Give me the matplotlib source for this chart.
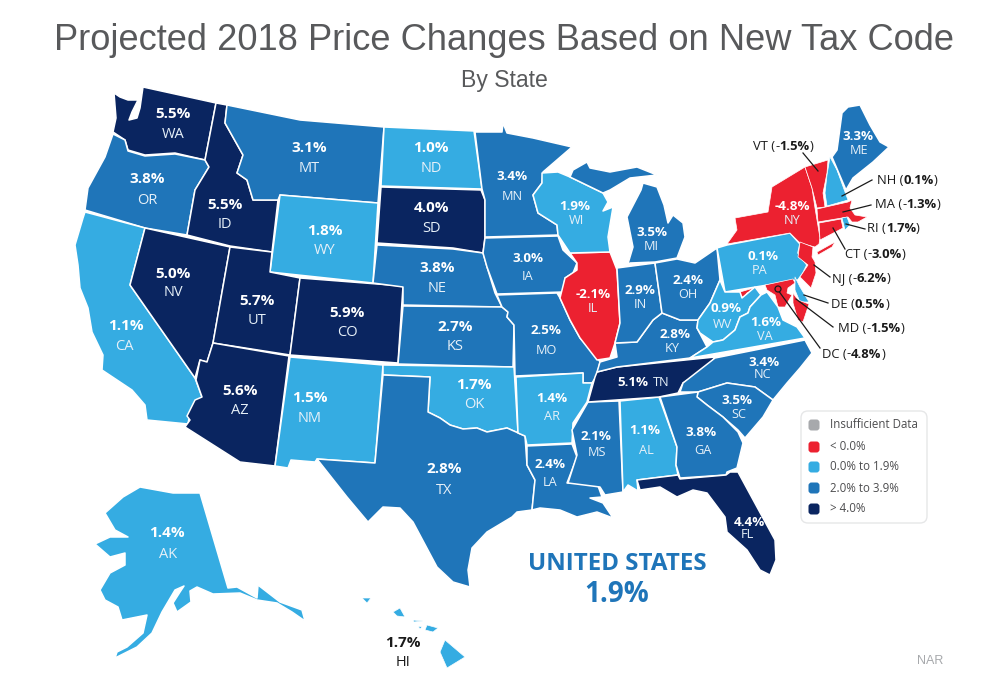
import matplotlib
matplotlib.use("Agg")
import matplotlib.pyplot as plt
from matplotlib.patches import Polygon, FancyBboxPatch, Circle

# ---------- data ----------
STATES = ["WA","OR","CA","NV","ID","MT","WY","UT","CO","AZ","NM","ND","SD","NE","KS","OK","TX",
          "MN","IA","MO","AR","LA","MS","AL","TN","KY","IL","WI","MI","IN","OH","PA","NY","VT",
          "NH","ME","MA","CT","RI","NJ","DE","MD","DC","WV","VA","NC","SC","GA","FL","AK","HI"]
VALUES = [5.5,3.8,1.1,5.0,5.5,3.1,1.8,5.7,5.9,5.6,1.5,1.0,4.0,3.8,2.7,1.7,2.8,
          3.4,3.0,2.5,1.4,2.4,2.1,1.1,5.1,2.8,-2.1,1.9,3.5,2.9,2.4,0.1,-4.8,-1.5,
          0.1,3.3,-1.3,-3.0,1.7,-6.2,0.5,-1.5,-4.8,0.9,1.6,3.4,3.5,3.8,4.4,1.4,1.7]
LEGEND_LABELS = ["Insufficient Data","< 0.0%","0.0% to 1.9%","2.0% to 3.9%","> 4.0%"]
TITLE = "Projected 2018 Price Changes Based on New Tax Code"
SUBTITLE = "By State"
US_LABEL = "UNITED STATES"
US_VALUE = 1.9
SOURCE = "NAR"

# ---------- colours ----------
GREY, RED, LIGHT, MID, DARK = "#a7a9ac", "#ec2130", "#35ace2", "#1f75b9", "#0a2560"
def bin_colour(v):
    if v < 0: return RED
    if v < 2: return LIGHT
    if v < 4: return MID
    return DARK

# ---------- map geometry (outline traced in picture space) ----------
SHAPES = {
"WA":[[(114,93),(120,97),(128,100),(138,100),(132,112),(129,120),(137,118),(140,108),(143,87),(216,103),(205,160),(175,153),(145,155),(128,150),(125,140),(113,132),(116,118)]],
"OR":[[(113,134),(125,140),(128,151),(145,156),(175,154),(205,160),(209,167),(195,190),(187,235),(145,228),(85,210),(88,188),(105,157)]],
"CA":[[(85,212),(145,228),(130,285),(195,378),(202,397),(190,413),(188,424),(147,420),(145,405),(132,390),(102,370),(103,355),(92,332),(88,308),(80,288),(78,265),(75,245),(83,218)]],
"NV":[[(145,228),(230,247),(213,343),(207,362),(200,360),(195,378),(130,285)]],
"ID":[[(216,103),(227,105),(225,123),(243,155),(237,173),(247,180),(253,200),(278,200),(272,252),(230,246),(187,235),(195,190),(209,167),(205,160)]],
"MT":[[(227,105),(300,120),(384,127),(378,203),(280,195),(278,200),(253,200),(247,180),(237,173),(243,155),(225,123)]],
"WY":[[(280,195),(378,203),(373,283),(270,272)]],
"UT":[[(230,247),(272,252),(270,272),(300,278),(290,355),(213,343)]],
"CO":[[(300,278),(403,286),(398,363),(290,355)]],
"AZ":[[(213,343),(289,356),(275,466),(240,462),(185,427),(190,420),(187,416),(195,400),(202,397),(196,380),(200,360),(207,362)]],
"NM":[[(290,357),(383,365),(375,463),(317,459),(315,462),(291,460),(288,468),(275,466)]],
"ND":[[(384,127),(474,131),(482,189),(381,186)]],
"SD":[[(381,187),(481,190),(485,200),(485,237),(483,253),(453,248),(377,243)]],
"NE":[[(377,245),(453,249),(483,253),(487,267),(495,293),(502,307),(403,305),(403,287),(373,283)]],
"KS":[[(403,306),(502,307),(508,312),(507,317),(514,325),(513,367),(398,364)]],
"OK":[[(383,365),(514,367),(518,433),(525,436),(507,428),(487,432),(477,428),(463,429),(450,425),(440,418),(428,412),(430,377),(383,375)]],
"TX":[[(383,375),(430,377),(428,412),(440,418),(450,425),(463,429),(477,428),(487,432),(507,428),(525,436),(527,465),(535,480),(532,510),(517,512),(512,517),(487,532),(472,548),(468,570),(470,587),(453,582),(437,567),(413,522),(400,508),(383,507),(368,522),(347,497),(317,459),(375,463)]],
"MN":[[(475,132),(502,132),(503,123),(507,133),(533,138),(572,147),(543,172),(542,183),(533,195),(538,213),(557,225),(558,235),(485,237),(485,200),(482,189)]],
"IA":[[(485,238),(558,236),(563,250),(577,263),(573,273),(565,278),(563,292),(497,294),(487,267),(483,253)]],
"MO":[[(497,295),(557,293),(560,298),(570,320),(580,338),(597,357),(600,362),(597,375),(592,383),(583,383),(583,373),(515,376),(514,325),(507,317),(508,312),(502,307)]],
"AR":[[(516,377),(583,373),(583,383),(592,383),(587,402),(573,423),(572,443),(527,445),(525,436),(518,433)]],
"LA":[[(527,446),(572,444),(577,457),(567,483),(597,483),(602,497),(590,498),(603,503),(613,518),(597,512),(577,517),(560,510),(540,508),(532,510),(535,480),(527,465)]],
"MS":[[(588,402),(619,401),(623,492),(605,495),(600,487),(568,483),(577,455),(572,430)]],
"AL":[[(620,401),(659,397),(677,447),(676,465),(678,475),(637,480),(638,491),(628,485),(623,492)]],
"TN":[[(588,402),(595,377),(597,372),(617,367),(715,357),(707,368),(683,383),(678,393),(659,397)]],
"KY":[[(597,372),(600,362),(617,357),(615,343),(637,342),(653,320),(662,313),(680,320),(698,320),(697,328),(707,347),(690,358),(617,367)]],
"IL":[[(570,253),(610,252),(617,270),(620,323),(615,343),(610,358),(597,360),(580,338),(570,320),(560,298),(565,278),(577,270),(577,263)]],
"WI":[[(542,173),(558,172),(570,177),(603,193),(608,202),(603,211),(613,207),(608,237),(610,252),(570,253),(558,235),(557,225),(538,213),(533,195),(542,183)]],
"MI":[[(573,170),(587,162),(590,168),(610,172),(637,167),(657,175),(630,178),(610,190),(603,193),(570,177)],
      [(641,190),(643,183),(657,187),(664,205),(668,223),(673,215),(683,223),(685,237),(677,258),(655,262),(630,263),(627,267),(633,247),(627,217)]],
"IN":[[(617,268),(655,263),(662,313),(653,320),(637,342),(615,343),(620,323)]],
"OH":[[(655,263),(677,259),(695,263),(717,248),(720,280),(710,303),(698,320),(680,320),(662,313)]],
"PA":[[(717,248),(727,245),(790,233),(800,244),(798,253),(807,265),(803,273),(798,280),(725,292)]],
"NY":[[(727,244),(737,230),(735,218),(768,212),(772,187),(805,167),(812,188),(815,208),(820,238),(819,244),(815,247),(800,243),(790,233)],
      [(817,252),(835,242),(832,247),(818,255)]],
"VT":[[(805,167),(828,160),(827,173),(823,193),(825,207),(817,208),(812,188)]],
"NH":[[(830,157),(837,170),(845,192),(848,200),(827,206),(825,193),(827,175)]],
"ME":[[(832,157),(837,150),(842,113),(848,107),(860,105),(870,125),(880,142),(889,147),(873,162),(853,178),(846,190)]],
"MA":[[(817,209),(848,202),(852,200),(850,208),(855,215),(867,217),(858,222),(852,222),(848,217),(818,222)]],
"CT":[[(819,223),(841,219),(843,228),(820,240)]],
"RI":[[(842,218),(847,217),(850,225),(845,230)]],
"NJ":[[(800,242),(813,247),(812,257),(815,262),(816,273),(811,288),(800,277),(808,265),(798,257)]],
"DE":[[(795,277),(800,287),(809,302),(800,302),(795,290)]],
"MD":[[(740,292),(757,287),(755,290),(747,293),(744,298),(741,296)],
      [(765,285),(793,279),(795,283),(788,288),(787,293),(792,295),(785,307),(778,307),(775,295),(767,290)],
      [(793,293),(798,300),(809,304),(803,322),(798,320),(793,303)]],
"DC":[],
"WV":[[(720,280),(725,292),(740,292),(742,298),(755,287),(761,295),(750,307),(748,313),(740,317),(735,330),(723,340),(713,342),(700,333),(697,328),(698,320),(710,303)]],
"VA":[[(690,358),(707,347),(713,342),(723,340),(735,330),(740,317),(748,313),(750,307),(761,295),(767,292),(778,307),(783,320),(797,327),(805,338)]],
"NC":[[(805,340),(812,353),(800,368),(787,383),(773,400),(755,387),(727,383),(698,392),(680,392),(683,383),(715,358)]],
"SC":[[(698,392),(727,383),(755,387),(773,400),(763,417),(745,438),(738,430),(723,417),(707,405),(697,397)]],
"GA":[[(660,397),(698,392),(697,397),(707,405),(723,417),(738,432),(743,443),(737,468),(727,472),(726,475),(680,478),(676,465),(677,447)]],
"FL":[[(637,480),(678,475),(680,479),(726,475),(730,472),(738,472),(757,507),(775,540),(776,560),(770,575),(760,570),(747,550),(727,532),(725,517),(707,493),(693,490),(677,497),(660,487),(640,490)]],
"AK":[[(200,493),(228,588),(237,587),(257,598),(258,585),(280,602),(302,610),(305,621),(292,612),(277,603),(257,600),(240,593),(213,594),(197,587),(190,591),(191,602),(177,612),(173,603),(180,592),(184,586),(175,590),(162,612),(152,633),(137,647),(115,658),(117,652),(127,647),(143,633),(147,615),(137,617),(122,620),(118,607),(105,600),(100,590),(110,573),(125,565),(125,553),(110,557),(95,544),(110,537),(128,537),(115,530),(105,513),(123,497),(140,487),(173,493)]],
"HI":[[(445,640),(465,657),(447,668),(440,652)],[(427,625),(438,628),(433,632),(425,630)],
      [(393,612),(400,608),(405,617),(397,616)],[(362,598),(371,598),(367,603)],
      [(413,620),(423,621),(414,622)],[(418,626),(422,627),(420,629)]],
}
THIN = {"VT","NH","MA","CT","RI","NJ","DE","MD","HI","NY"}

# label anchor positions: state -> (pct x, pct y, abbr x, abbr y, font size)
LABEL_POS = {
"WA":(173,114,173,134,10.5),"OR":(147,179,147,200,10.5),"ID":(225,205,225,225,10.5),"MT":(309,148,309,169,10.5),
"ND":(431,148,431,169,10.5),"SD":(432,208,432,228,10.5),"WY":(325,231,325,251,10.5),"NV":(173,274,173,293,10.5),
"UT":(257,301,257,321,10.5),"CO":(347,313,347,333,10.5),"CA":(126,326,124,347,10.5),"AZ":(240,391,240,411,10.5),
"NM":(310,398,310,419,10.5),"NE":(437,268,437,288,10.5),"KS":(455,327,455,347,10.5),"OK":(474,385,474,405,10.5),
"TX":(444,469,444,490,10.5),"MN":(512,176,512,196,9.2),"IA":(528,258,528,276,9.2),"MO":(546,331,546,351,9.2),
"AR":(552,398,552,417,9.2),"LA":(550,464,550,483,9.2),"MS":(596,436,597,453,9.2),"AL":(645,431,646,451,9.2),
"GA":(701,432,703,451,9.2),"FL":(749,522,747,535,9.2),"SC":(737,400,739,414,9.2),"NC":(764,363,763,375,9.2),
"KY":(675,334,672,348,9.2),"OH":(688,280,688,294,9.2),"IN":(640,290,640,305,9.2),"IL":(593,294,593,309,9.2),
"WI":(575,206,577,221,9.2),"MI":(652,232,651,246,9.2),"PA":(763,256,760,270,9.2),"WV":(726,309,723,324,9.2),
"VA":(766,322,765,337,9.2),"NY":(792,206,792,221,9.2),"ME":(858,137,859,150,9.2),"AK":(167,533,168,555,10.5),
}
CALLOUTS = {  # state -> text position, leader start, leader end
"VT":((753,147),(803,153),(818,171)),"NH":((877,181),(872,180),(842,196)),"MA":((875,205),(871,205),(843,212)),
"RI":((867,229),(865,229),(846,224)),"CT":((845,254),(845,249),(833,228)),"NJ":((832,279),(830,277),(814,265)),
"DE":((831,305),(828,303),(804,295)),"MD":((838,329),(833,327),(796,299)),"DC":((822,354),(820,348),(778,290)),
}
LABEL_FONT = "Open Sans"
lookup = dict(zip(STATES, VALUES))

fig = plt.figure(figsize=(9.82, 6.95), dpi=100)
ax = fig.add_axes([0, 0, 1, 1])
ax.set_xlim(0, 982); ax.set_ylim(695, 0); ax.axis("off")

for st, v in zip(STATES, VALUES):
    lw = 0.5 if st in THIN else 1.1
    for ring in SHAPES[st]:
        ax.add_patch(Polygon(ring, closed=True, facecolor=bin_colour(v), edgecolor="white", linewidth=lw, joinstyle="round", zorder=2))

for st, (px, py, ax_, ay, fs) in LABEL_POS.items():
    ax.text(px, py, f"{lookup[st]:.1f}%", color="white", fontweight="bold", fontsize=fs*1.05, family=LABEL_FONT, ha="center", va="center", zorder=4)
    ax.text(ax_, ay, st, color="#e6f0f8", fontsize=fs, family=LABEL_FONT, ha="center", va="center", zorder=4)

# Tennessee label sits on one line
ax.text(633, 382, f"{lookup['TN']:.1f}%", color="white", fontweight="bold", fontsize=9.6, family=LABEL_FONT, ha="center", va="center", zorder=4)
ax.text(661, 382, "TN", color="#e6f0f8", fontsize=9.2, family=LABEL_FONT, ha="center", va="center", zorder=4)
# Hawaii label is outside the shape
ax.text(403, 643, f"{lookup['HI']:.1f}%", color="#1a1a1a", fontweight="bold", fontsize=11, family=LABEL_FONT, ha="center", va="center", zorder=4)
ax.text(403, 663, "HI", color="#1a1a1a", fontsize=10.5, family=LABEL_FONT, ha="center", va="center", zorder=4)

# call-outs with mixed weight
fig.canvas.draw()
rend = fig.canvas.get_renderer()
def run(x, y, s, **kw):
    t = ax.text(x, y, s, fontsize=9.4, family=LABEL_FONT, color="#1a1a1a", ha="left", va="center", zorder=5, **kw)
    return x + t.get_window_extent(rend).width

for st, ((tx, ty), p0, p1) in CALLOUTS.items():
    ax.plot([p0[0], p1[0]], [p0[1], p1[1]], color="#1a1a1a", lw=0.9, zorder=4)
    x = run(tx, ty, f"{st}\u00a0(")
    v = lookup[st]
    if v < 0:
        x = run(x, ty, "-")
    x = run(x, ty, f"{abs(v):.1f}%", fontweight="bold")
    run(x, ty, ")")
ax.add_patch(Circle((778, 289), 3, facecolor=RED, edgecolor="#1a1a1a", lw=0.9, zorder=5))

# titles
ax.text(504, 40, TITLE, fontsize=26.1, color="#58595b", family="Liberation Sans", ha="center", va="center")
ax.text(504, 81, SUBTITLE, fontsize=16.6, color="#58595b", family="Liberation Sans", ha="center", va="center")

# national figure
ax.text(617, 564, US_LABEL, fontsize=17.4, color=MID, fontweight="bold", family=LABEL_FONT, ha="center", va="center")
ax.text(617, 595, f"{US_VALUE:.1f}%", fontsize=20, color=MID, fontweight="bold", family=LABEL_FONT, ha="center", va="center")

# legend
ax.add_patch(FancyBboxPatch((801, 411), 126, 112, boxstyle="round,pad=0,rounding_size=7",
                            facecolor="white", edgecolor="#e6e7e8", lw=1.0, zorder=1))
for lab, col, y in zip(LEGEND_LABELS, [GREY, RED, LIGHT, MID, DARK], [425, 447, 467, 488, 509]):
    ax.add_patch(FancyBboxPatch((810, y-4), 8, 8, boxstyle="round,pad=1.5,rounding_size=3", facecolor=col, edgecolor="none", zorder=3))
    ax.text(830, y, lab, fontsize=8.3, color="#4d4d4f", family=LABEL_FONT, ha="left", va="center", zorder=3)

ax.text(930, 661, SOURCE, fontsize=9, color="#a7a9ac", family="Liberation Sans", ha="center", va="center")

fig.savefig("out.png", dpi=100, facecolor="white")
